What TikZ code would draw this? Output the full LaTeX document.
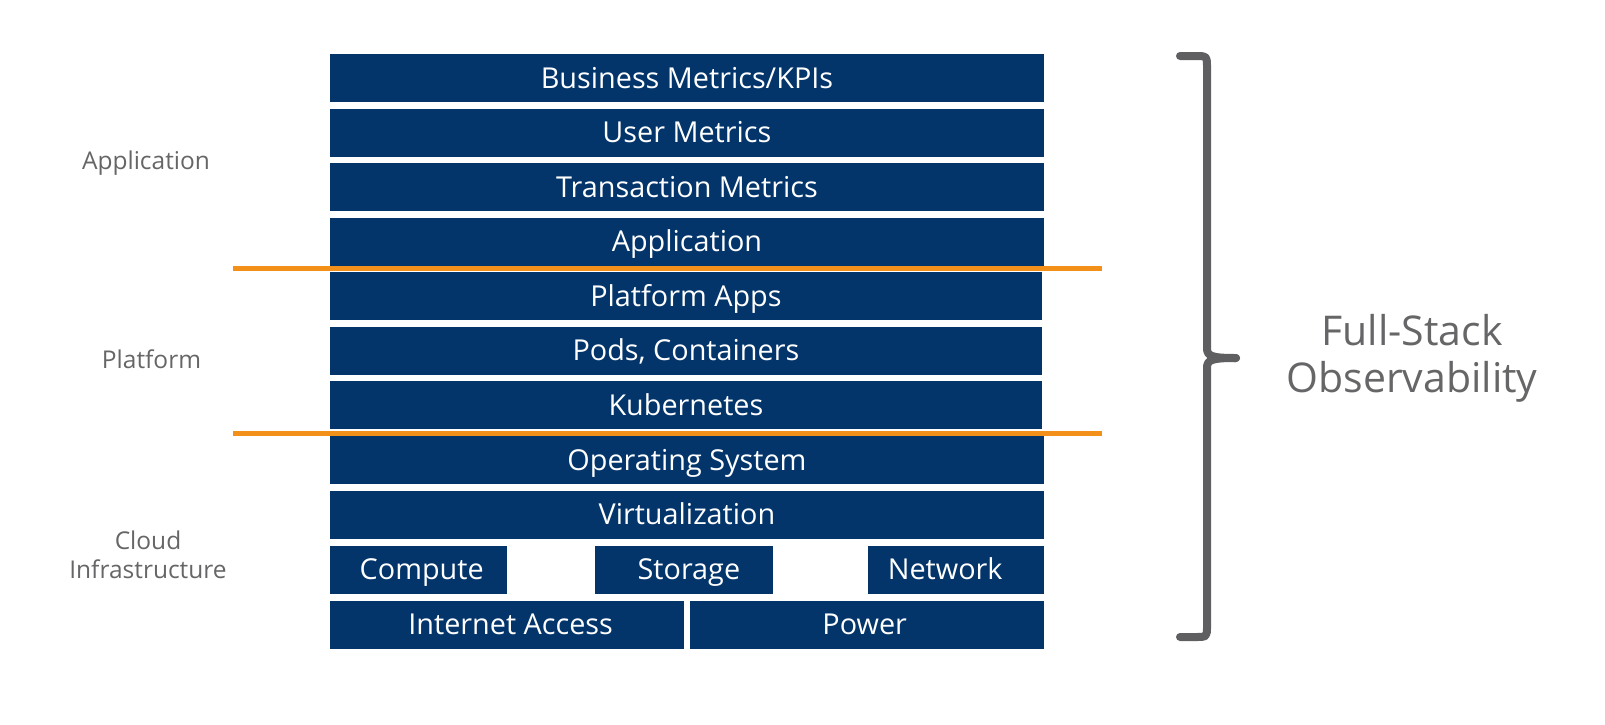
\documentclass[tikz,border=0pt]{standalone}
\usepackage{fontspec}
\setmainfont{Open Sans}
\definecolor{navy}{HTML}{03356B}
\definecolor{orangeline}{HTML}{F39019}
\definecolor{bracegray}{HTML}{5F5F61}
\definecolor{labelgray}{HTML}{666668}
\begin{document}
\begin{tikzpicture}[x=1pt,y=-1pt,
  layer/.style={fill=navy,draw=none,inner sep=0pt,text=white,
    font=\fontsize{28.8}{31}\selectfont,anchor=north west,
    text height=20.5pt,text depth=0pt},
  side/.style={text=labelgray,font=\fontsize{24.5}{29}\selectfont,align=center},
  sep/.style={draw=orangeline,line width=4.5pt},
  brace/.style={draw=bracegray,line width=8pt,line cap=round,line join=round}]
\useasboundingbox (0,0) rectangle (1605,724);
% stack rows
\node[layer,minimum width=714.5pt,minimum height=48pt] (biz) at (329.5,54) {Business Metrics/KPIs};
\node[layer,minimum width=714.5pt,minimum height=48pt] (user) at (329.5,108.5) {User Metrics};
\node[layer,minimum width=714.5pt,minimum height=48pt] (trans) at (329.5,163) {Transaction Metrics};
\node[layer,minimum width=714.5pt,minimum height=48pt] (app) at (329.5,217.5) {Application};
\node[layer,minimum width=712.5pt,minimum height=48pt] (papps) at (329.5,272) {Platform Apps};
\node[layer,minimum width=712.5pt,minimum height=48pt] (pods) at (329.5,326.5) {Pods, Containers};
\node[layer,minimum width=712.5pt,minimum height=48pt] (k8s) at (329.5,381) {Kubernetes};
\node[layer,minimum width=714.5pt,minimum height=48pt] (os) at (329.5,436) {Operating System};
\node[layer,minimum width=714.5pt,minimum height=48pt] (virt) at (329.5,490.5) {Virtualization};
\node[layer,minimum width=177pt,minimum height=48pt] (compute) at (329.5,545.5) {\kern7pt Compute};
\node[layer,minimum width=178pt,minimum height=48pt] (storage) at (594.7,545.5) {\kern10pt Storage};
\node[layer,minimum width=176pt,minimum height=48pt] (network) at (868,545.5) {Network\kern22pt};
\node[layer,minimum width=354pt,minimum height=48pt] (inet) at (329.5,600.5) {\kern8pt Internet Access};
\node[layer,minimum width=354pt,minimum height=48pt] (power) at (690,600.5) {Power\kern5pt};
% orange separators
\draw[sep] (233,268.5) -- (1102,268.5);
\draw[sep] (233,433.5) -- (1102,433.5);
% side labels
\node[side] (lapp) at (146,163) {Application};
\node[side] (lplat) at (151.5,359.5) {Platform};
\node[side] (lcloud) at (148,554.5) {Cloud\\Infrastructure};
% brace
\draw[brace] (1180,56) -- (1195,56) .. controls (1207,56) .. (1207,68) -- (1207,348)
  .. controls (1207,356) and (1211,358) .. (1236,358);
\draw[brace] (1236,358) .. controls (1211,358) and (1207,360) .. (1207,368) -- (1207,626)
  .. controls (1207,637) .. (1195,637) -- (1180,637);
\node[text=labelgray,font=\fontsize{41}{46.5}\selectfont,align=center] (fso) at (1412,358.5) {Full-Stack\\Observability};
\end{tikzpicture}
\end{document}
